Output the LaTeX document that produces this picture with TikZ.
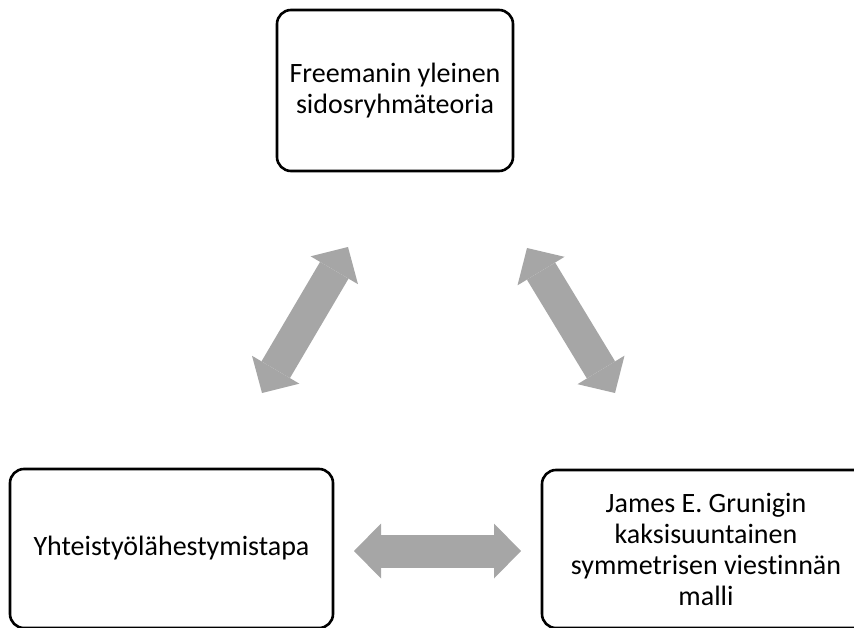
\documentclass[tikz,border=0pt]{standalone}
\usepackage{fontspec}
\setmainfont{Carlito}[Ligatures=NoCommon]
\usetikzlibrary{arrows.meta}
\definecolor{arrowgray}{HTML}{A6A6A6}
\begin{document}
\begin{tikzpicture}[x=1pt,y=-1pt,
  box/.style={draw=black, line width=2.6pt, rounded corners=14pt, fill=white,
    font=\fontsize{28}{31}\selectfont, align=center, text=black, inner sep=0pt},
  tipg/.tip={Triangle[length=27pt,width=55pt,line width=0pt]},
  dbl/.style={draw=arrowgray, line width=33pt, line cap=butt, tipg-tipg}]
\useasboundingbox (0,0) rectangle (854,628);
\clip (0,0) rectangle (854,628);
\node[box, minimum width=236pt, minimum height=161pt] (top) at (395,90.5)
  {Freemanin yleinen\\sidosryhmäteoria};
\node[box, minimum width=323pt, minimum height=159pt] (left) at (171.5,548.5)
  {Yhteistyölähestymistapa};
\node[box, minimum width=328pt, minimum height=158pt] (right) at (706,549)
  {James E. Grunigin\\kaksisuuntainen\\symmetrisen viestinnän\\malli};
\coordinate (a1s) at (262,393);
\coordinate (a1e) at (348,247);
\coordinate (a2s) at (527,248);
\coordinate (a2e) at (615,393);
\coordinate (a3s) at (354,551);
\coordinate (a3e) at (521,551);
\draw[dbl] (a1s) -- (a1e);
\draw[dbl] (a2s) -- (a2e);
\draw[dbl] (a3s) -- (a3e);
\end{tikzpicture}
\end{document}
